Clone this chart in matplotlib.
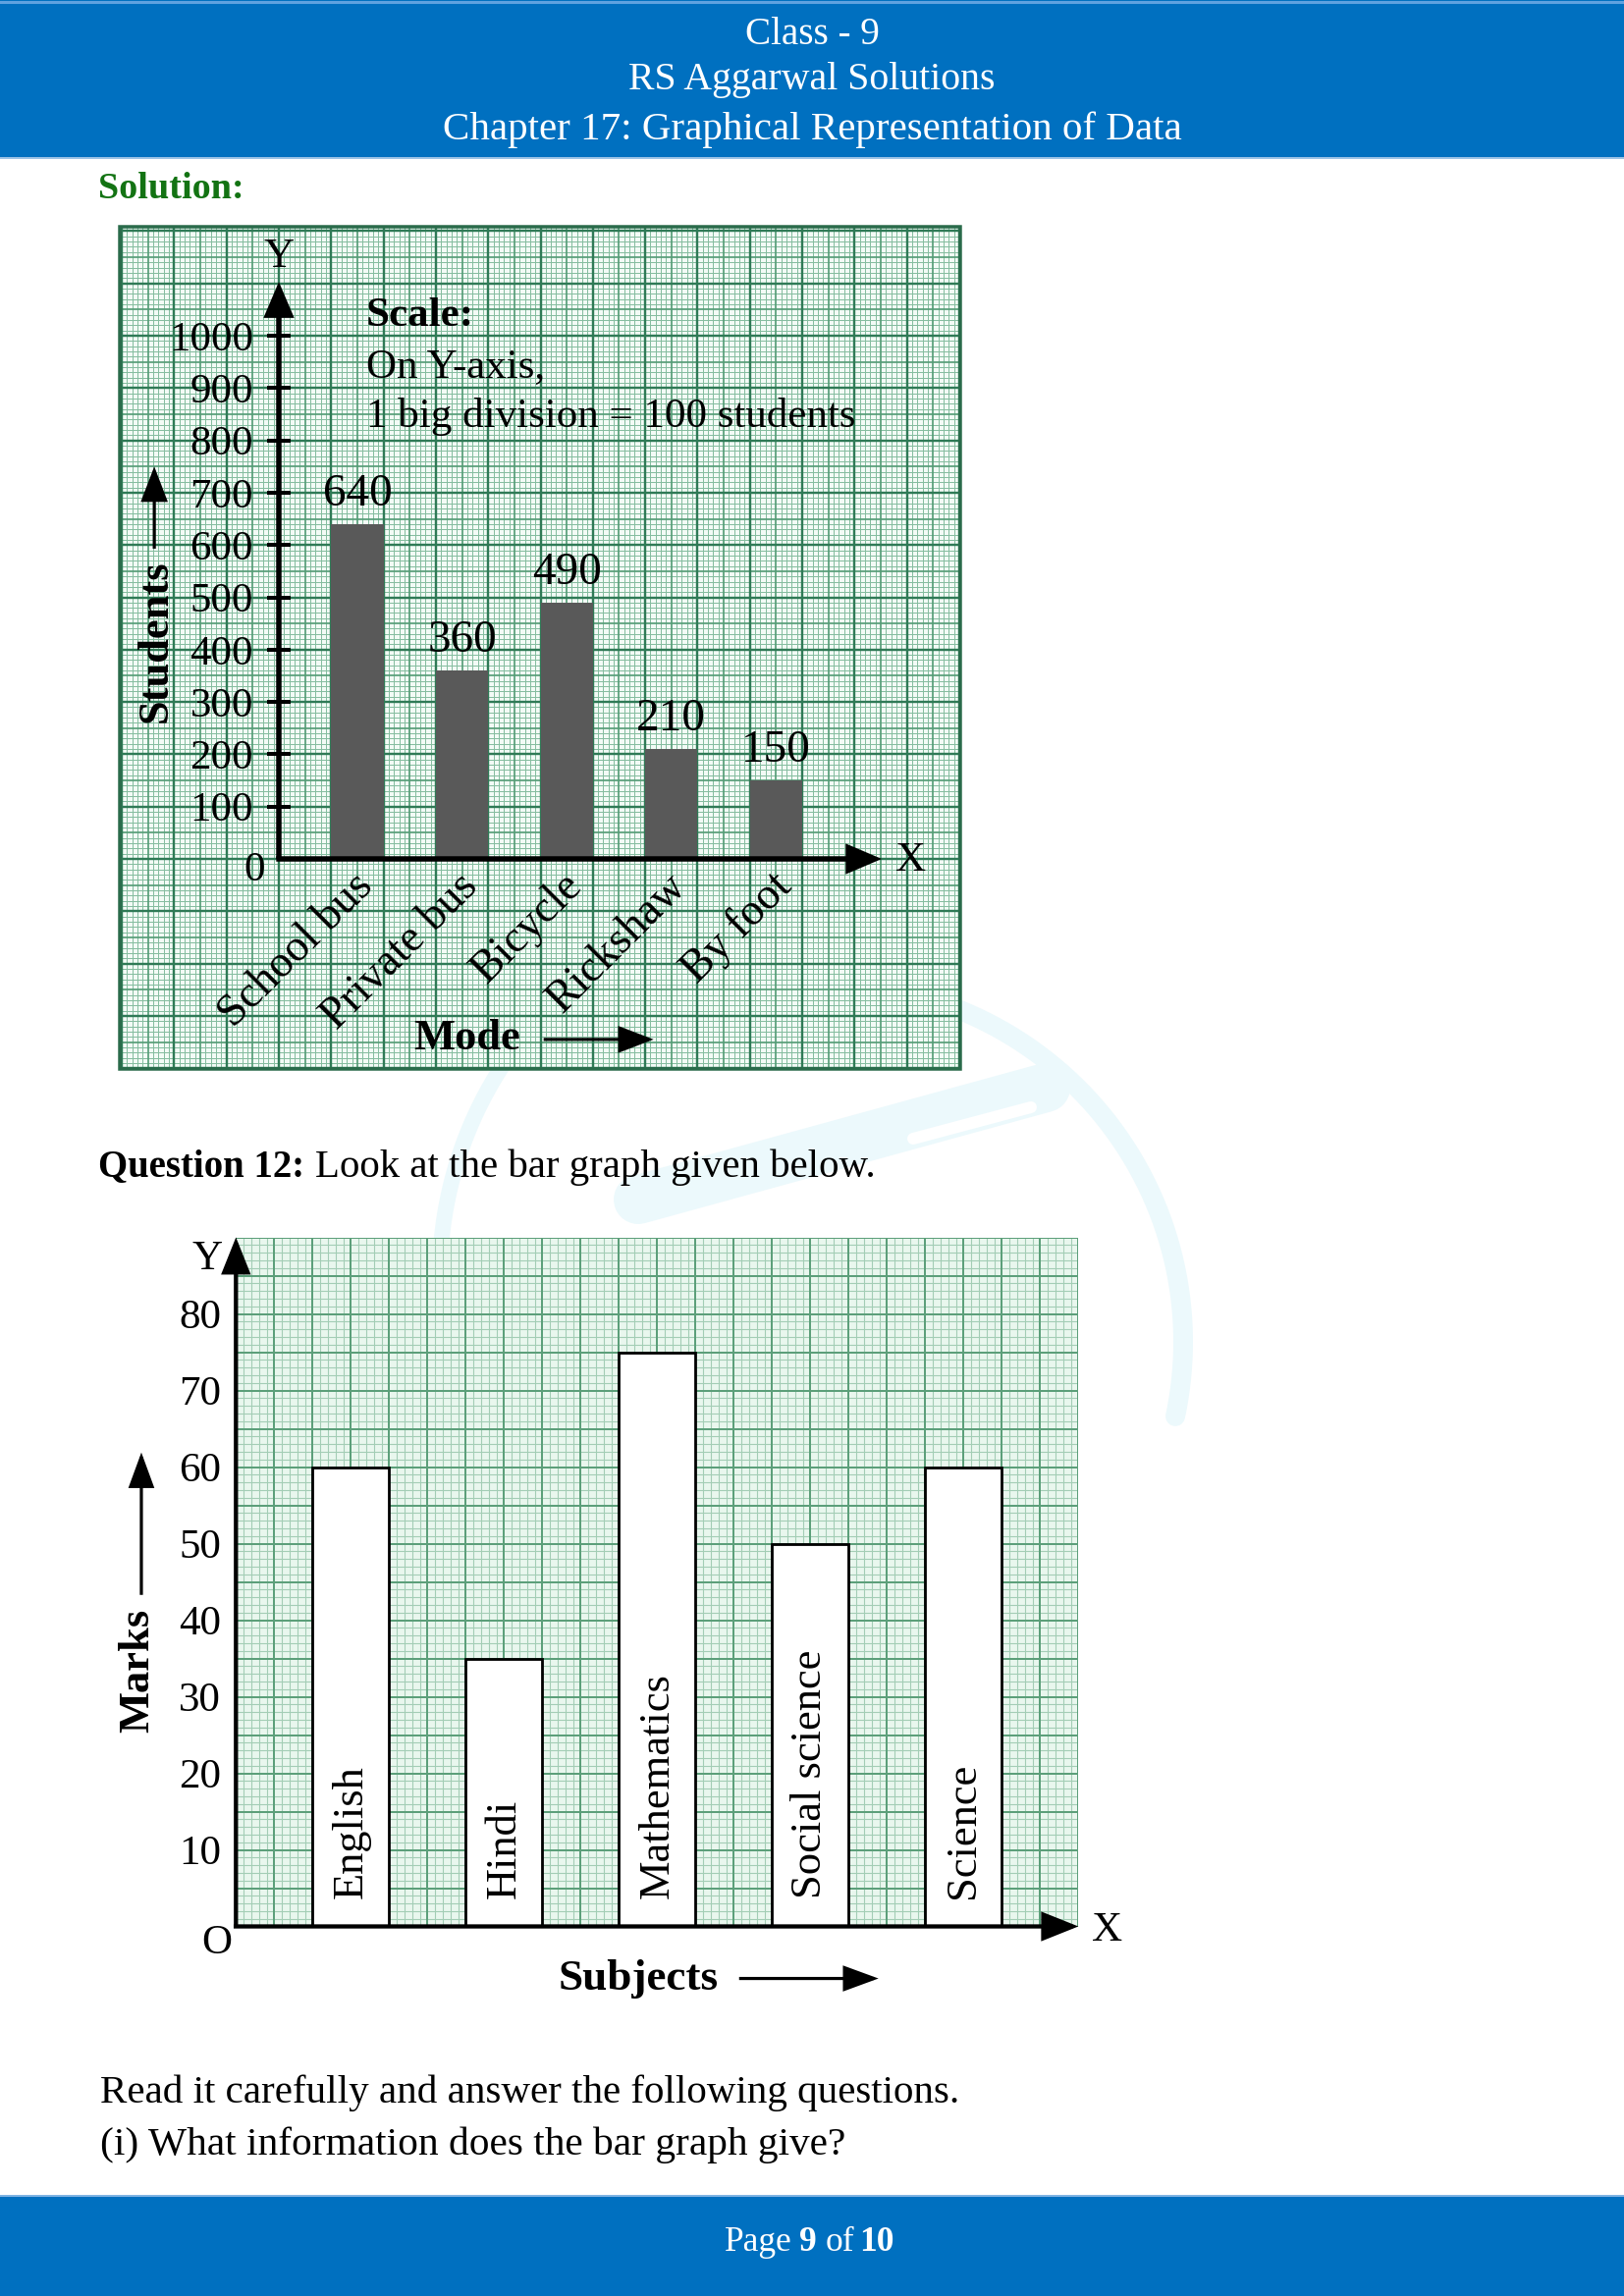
import numpy as np
import matplotlib
matplotlib.use("Agg")
import matplotlib.pyplot as plt
from matplotlib.patches import Rectangle

# ---------------- data ----------------
modes = ["School bus", "Private bus", "Bicycle", "Rickshaw", "By foot"]
students = [640, 360, 490, 210, 150]
student_ticks = [100, 200, 300, 400, 500, 600, 700, 800, 900, 1000]

subjects = ["English", "Hindi", "Mathematics", "Social science", "Science"]
marks = [60, 35, 75, 50, 60]
mark_ticks = [10, 20, 30, 40, 50, 60, 70, 80]

header_lines = ["Class - 9", "RS Aggarwal Solutions",
                "Chapter 17: Graphical Representation of Data"]

# ---------------- page setup ----------------
W, H = 1654, 2339
PX = 0.72  # points per pixel at dpi 100
SERIF = ["Liberation Serif", "DejaVu Serif"]
plt.rcParams["font.family"] = SERIF

fig = plt.figure(figsize=(W / 100, H / 100), dpi=100, facecolor="white")
renderer = fig.canvas.get_renderer()

page = fig.add_axes([0, 0, 1, 1])
page.set_xlim(0, W)
page.set_ylim(H, 0)
page.axis("off")


def fit_text(ax, x, y, s, width_px, ha="left", va="baseline", **kw):
    t = ax.text(x, y, s, fontsize=20, ha=ha, va=va, **kw)
    w = t.get_window_extent(renderer=renderer).width
    t.set_fontsize(20 * width_px / w)
    return t


# watermark (very faint)
wm = "#ecf9fc"
th = np.radians(np.linspace(-68, 12, 200))
page.plot(840 + 365 * np.cos(th), 1367 + 365 * np.sin(th), color=wm,
          lw=20 * PX, solid_capstyle="round", zorder=0)
th = np.radians(np.linspace(-135, -180, 120))
page.plot(840 + 392 * np.cos(th), 1300 + 392 * np.sin(th), color=wm,
          lw=16 * PX, solid_capstyle="round", zorder=0)
page.plot([650, 1065], [1222, 1108], color=wm, lw=50 * PX,
          solid_capstyle="round", zorder=0)
page.plot([930, 1050], [1160, 1128], color="white", lw=12 * PX,
          solid_capstyle="round", zorder=0)

# header
page.add_patch(Rectangle((0, 0), W, 161, fc="#0070C0", ec="none", zorder=1))
page.plot([0, W], [1.5, 1.5], color="#5fa2e0", lw=3 * PX, zorder=2)
page.plot([0, W], [161, 161], color="#9cc3e6", lw=2 * PX, zorder=2)
for s, base, wpx in zip(header_lines, [45, 90.7, 141.7], [137, 373, 752]):
    fit_text(page, 827, base, s, wpx, ha="center", color="white", zorder=3)

# footer
page.add_patch(Rectangle((0, 2237), W, H - 2237, fc="#0070C0", ec="none", zorder=1))
page.plot([0, W], [2237, 2237], color="#7fb3e3", lw=2 * PX, zorder=2)
tp = fit_text(page, 738, 2293, "Page", 69, color="white", zorder=3)
fs = tp.get_fontsize()
page.text(814, 2293, "9", fontsize=fs, fontweight="bold", color="white", va="baseline", zorder=3)
page.text(841, 2293, "of", fontsize=fs, color="white", va="baseline", zorder=3)
page.text(875, 2293, "10", fontsize=fs, fontweight="bold", color="white", va="baseline", zorder=3)

# body text
fit_text(page, 100, 201.7, "Solution:", 148, color="#137313", fontweight="bold", zorder=3)
fit_text(page, 100, 1198.5, "Question 12:", 210, color="black", fontweight="bold", zorder=3)
fit_text(page, 321, 1198.5, "Look at the bar graph given below.", 571, color="black", zorder=3)
fit_text(page, 102, 2141.7, "Read it carefully and answer the following questions.", 874,
         color="black", zorder=3)
fit_text(page, 102, 2195, "(i) What information does the bar graph give?", 758,
         color="black", zorder=3)


# ---------------- helpers ----------------
def chart_axes(ox, oy, s, xlim, ylim):
    left = ox + xlim[0] * s
    right = ox + xlim[1] * s
    top = oy - ylim[1] * s
    bottom = oy - ylim[0] * s
    ax = fig.add_axes([left / W, 1 - bottom / H, (right - left) / W, (bottom - top) / H])
    ax.set_xlim(*xlim)
    ax.set_ylim(*ylim)
    for sp in ax.spines.values():
        sp.set_visible(False)
    return ax


def arrow(ax, p0, p1, lw_px, hl_px, hw_px, z=6):
    ax.annotate("", xy=p1, xytext=p0,
                arrowprops=dict(arrowstyle=f"-|>,head_length={hl_px * PX},head_width={hw_px * PX / 2}",
                                lw=lw_px * PX, color="black", shrinkA=0, shrinkB=0,
                                mutation_scale=1, joinstyle="miter", capstyle="butt"),
                annotation_clip=False, zorder=z)


def graph_paper(ax, xs, ys, levels):
    # levels: list of (step, color, lw_px) from finest to coarsest
    xlim, ylim = ax.get_xlim(), ax.get_ylim()
    for arr, is_x in ((xs, True), (ys, False)):
        for k, (step, col, lwp) in enumerate(levels):
            m = np.isclose(np.mod(arr, step), 0)
            for coarser in levels[k + 1:]:
                m &= ~np.isclose(np.mod(arr, coarser[0]), 0)
            if is_x:
                ax.vlines(arr[m], ylim[0], ylim[1], colors=col, lw=lwp * PX, zorder=0.5 + k * 0.1)
            else:
                ax.hlines(arr[m], xlim[0], xlim[1], colors=col, lw=lwp * PX, zorder=0.5 + k * 0.1)


# ---------------- chart 1 ----------------
FS = 31
ax1 = chart_axes(284, 875, 0.533, (-304, 1302), (-402, 1208))
ax1.set_facecolor("#f3fbf6")
graph_paper(ax1, np.arange(-300, 1302, 10), np.arange(-400, 1208, 10),
            [(10, "#86bda0", 1.0), (50, "#559d77", 1.7), (100, "#2f7a56", 2.4)])
ax1.add_patch(Rectangle((0, 0), 1, 1, transform=ax1.transAxes, fill=False,
                        ec="#2a6b4b", lw=3.5 * PX, clip_on=False, zorder=5))

bx1 = 150 + 200 * np.arange(len(modes))
ax1.bar(bx1, students, width=100, color="#595959", zorder=3)
for x, v in zip(bx1, students):
    ax1.text(x, v + 35, str(v), ha="center", va="baseline", fontsize=34, zorder=4)
for x, lab in zip(bx1, modes):
    ax1.text(x - 10, -12, lab, rotation=45, ha="right", va="top", rotation_mode="anchor",
             fontsize=33, zorder=4)

ax1.spines["left"].set_position(("data", 0))
ax1.set_yticks(student_ticks)
ax1.set_yticklabels([str(t) for t in student_ticks])
ax1.tick_params(axis="y", direction="inout", length=24 * PX, width=4 * PX, pad=10,
                labelsize=FS, colors="black", zorder=6)
ax1.set_xticks([])

arrow(ax1, (0, 0), (0, 1103), 5.5, 27, 23)
arrow(ax1, (-5, 0), (1152, 0), 5.5, 27, 23)
ax1.text(0, 1151, "Y", ha="center", va="center", fontsize=FS, zorder=4)
ax1.text(1207, -3, "X", ha="center", va="center", fontsize=FS, zorder=4)
ax1.text(-47, -22, "0", ha="center", va="center", fontsize=FS, zorder=4)

ax1.text(167, 1019, "Scale:", fontsize=FS, fontweight="bold", va="baseline", zorder=4)
ax1.text(167, 921, "On Y-axis,", fontsize=FS, va="baseline", zorder=4)
ax1.text(167, 826, "1 big division = 100 students", fontsize=FS, va="baseline", zorder=4)

ax1.text(-236, 416, "Students", rotation=90, ha="center", va="center", fontsize=32,
         fontweight="bold", zorder=4)
arrow(ax1, (-238, 593), (-238, 750), 3.2, 30, 23)
ax1.text(360, -343, "Mode", ha="center", va="center", fontsize=32, fontweight="bold", zorder=4)
arrow(ax1, (506, -345), (716, -345), 3.2, 30, 23)

# ---------------- chart 2 ----------------
ax2 = chart_axes(240.3, 1962.5, 7.8, (0, 110), (0, 90))
ax2.set_facecolor("#e9f7ee")
graph_paper(ax2, np.arange(0, 111, 1), np.arange(0, 91, 1),
            [(1, "#a3cdb5", 1.1), (5, "#5c9f7a", 2.0)])

bx2 = 15 + 20 * np.arange(len(subjects))
ax2.bar(bx2, marks, width=10, color="white", edgecolor="black", lw=2.8 * PX, zorder=3)
for x, lab in zip(bx2, subjects):
    ax2.text(x, 3.7, lab, rotation=90, ha="left", va="center", rotation_mode="anchor",
             fontsize=32, zorder=4)

ax2.set_yticks(mark_ticks)
ax2.set_yticklabels([str(t) for t in mark_ticks])
ax2.tick_params(axis="y", length=0, pad=11, labelsize=FS, colors="black")
ax2.set_xticks([])

arrow(ax2, (0, 0), (0, 90), 4.3, 30, 24)
arrow(ax2, (-0.3, 0), (110, 0), 4.3, 30, 24)
ax2.text(-3.7, 87.1, "Y", ha="center", va="center", fontsize=FS, zorder=4)
ax2.text(113.8, -0.6, "X", ha="center", va="center", fontsize=FS, zorder=4)
ax2.text(-2.55, -2.2, "O", ha="center", va="center", fontsize=FS, zorder=4)

ax2.text(-12.8, 33.4, "Marks", rotation=90, ha="center", va="center", fontsize=32,
         fontweight="bold", zorder=4)
arrow(ax2, (-12.35, 43.3), (-12.35, 61.9), 3.2, 30, 22)
ax2.text(52.5, -6.8, "Subjects", ha="center", va="center", fontsize=32.5,
         fontweight="bold", zorder=4)
arrow(ax2, (65.7, -6.8), (83.9, -6.8), 3.2, 30, 22)

fig.savefig("out.png", dpi=100, facecolor="white")
